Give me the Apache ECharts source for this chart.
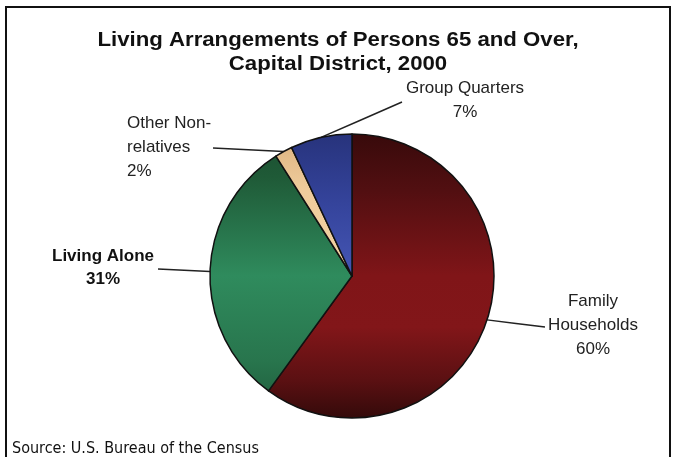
<!DOCTYPE html>
<html>
<head>
<meta charset="utf-8">
<script src="https://cdn.jsdelivr.net/npm/echarts@6/dist/echarts.min.js"></script>
<style>
  html, body { margin: 0; padding: 0; background: #ffffff; }
  #chart { width: 675px; height: 457px; }
</style>
</head>
<body>
<div id="chart"></div>
<script>
// Living arrangements of persons 65 and over, Capital District, 2000 (percent)
const categories = ['Family\nHouseholds', 'Living Alone', 'Other Non-\nrelatives', 'Group Quarters'];
const shares = [60, 31, 2, 7];
const titleText = 'Living Arrangements of Persons 65 and Over,\nCapital District, 2000';
const sourceText = 'Source: U.S. Bureau of the Census';

const pieCenter = [352, 276];
const pieRadius = 142;

// shading runs top-to-bottom across the whole disc: dark rim, bright middle
function discShade(stops) {
  return new echarts.graphic.LinearGradient(
    0, pieCenter[1] - pieRadius, 0, pieCenter[1] + pieRadius,
    stops.map(s => ({ offset: s[0], color: s[1] })), true);
}

const sliceFills = [
  discShade([[0, '#380a0b'], [0.2, '#520f11'], [0.5, '#801518'], [0.68, '#821619'], [0.87, '#5a1012'], [1, '#340a0a']]),
  discShade([[0, '#1b4e30'], [0.15, '#1f5a37'], [0.5, '#2f8b5d'], [0.8, '#28754d'], [1, '#1e5a3a']]),
  discShade([[0, '#dcb27e'], [0.2, '#efcc9c'], [1, '#f5d8ac']]),
  discShade([[0, '#27337c'], [0.25, '#35449c'], [0.5, '#4556b4'], [1, '#4556b4']])
];

// where each label block sits and where its leader line ends
const labelPlacement = [
  { x: 593, y: 325, align: 'center', end: [545, 327] },
  { x: 103, y: 268, align: 'center', end: [158, 269] },
  { x: 127, y: 147, align: 'left',   end: [213, 148] },
  { x: 465, y: 100, align: 'center', end: [402, 102] }
];

const chart = echarts.init(document.getElementById('chart'), null, { renderer: 'canvas' });

chart.setOption({
  backgroundColor: '#ffffff',
  animation: false,
  graphic: [
    {
      type: 'rect',
      shape: { x: 6, y: 7, width: 664, height: 470 },
      style: { fill: 'none', stroke: '#111111', lineWidth: 2 },
      silent: true
    },
    {
      // chart title, set slightly wide
      type: 'text',
      x: 338,
      y: 28,
      scaleX: 1.11,
      style: {
        text: titleText,
        align: 'center',
        verticalAlign: 'top',
        fontFamily: 'Liberation Sans, Arial, sans-serif',
        fontSize: 20,
        fontWeight: 'bold',
        lineHeight: 24,
        fill: '#111111'
      },
      silent: true
    },
    {
      type: 'text',
      x: 12,
      y: 449,
      style: {
        text: sourceText,
        verticalAlign: 'middle',
        fontFamily: 'DejaVu Sans Condensed, DejaVu Sans, sans-serif',
        fontSize: 16,
        fill: '#111111'
      },
      silent: true
    }
  ],
  series: [{
    type: 'pie',
    center: pieCenter,
    radius: pieRadius,
    startAngle: 90,
    clockwise: true,
    avoidLabelOverlap: false,
    itemStyle: { borderColor: '#111111', borderWidth: 1.5 },
    label: {
      show: true,
      position: 'outside',
      fontFamily: 'Liberation Sans, Arial, sans-serif',
      fontSize: 17,
      lineHeight: 24,
      color: '#222222',
      formatter: p => p.name + '\n' + p.value + '%'
    },
    labelLine: {
      show: true,
      length: 20,
      length2: 20,
      lineStyle: { color: '#222222', width: 1.5 }
    },
    labelLayout: function (params) {
      const place = labelPlacement[params.dataIndex];
      const start = params.labelLinePoints ? params.labelLinePoints[0] : place.end;
      const mid = [(start[0] + place.end[0]) / 2, (start[1] + place.end[1]) / 2];
      return {
        x: place.x,
        y: place.y,
        align: place.align,
        verticalAlign: 'middle',
        labelLinePoints: [start, mid, place.end]
      };
    },
    data: categories.map((name, i) => ({
      name: name,
      value: shares[i],
      itemStyle: { color: sliceFills[i] },
      label: i === 1 ? { fontWeight: 'bold', color: '#111111', lineHeight: 23 } : {}
    }))
  }]
});
</script>
</body>
</html>
